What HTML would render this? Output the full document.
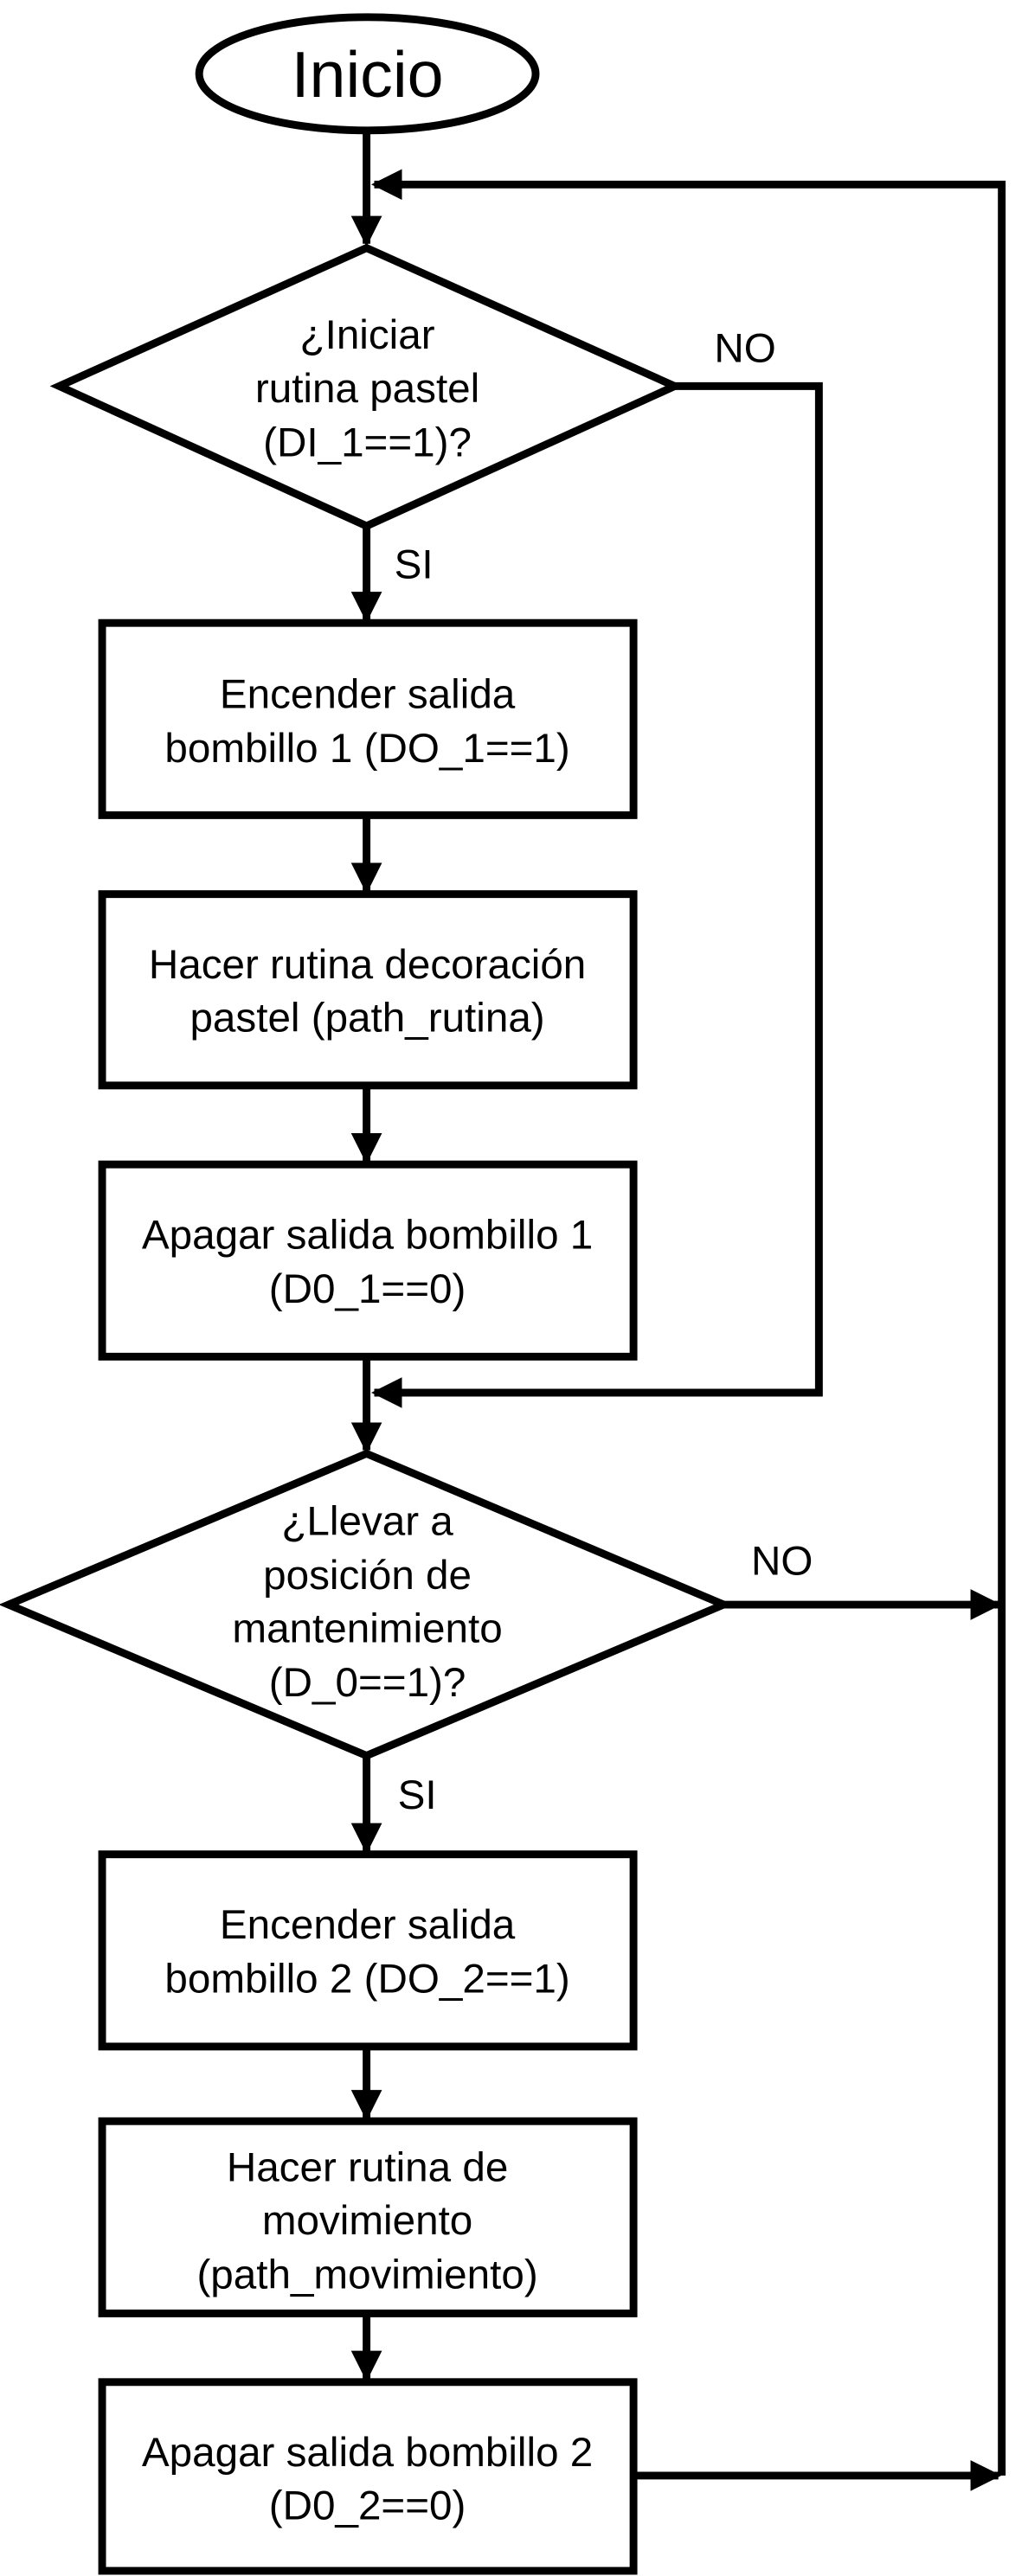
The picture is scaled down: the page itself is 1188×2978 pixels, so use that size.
<!DOCTYPE html>
<html><head><meta charset="utf-8"><style>
html,body{margin:0;padding:0;background:#fff;}
svg{display:block;}
text{font-family:"Liberation Sans",sans-serif;fill:#000;text-anchor:middle;}
</style></head><body>
<svg width="1188" height="2978" viewBox="0 0 1188 2978" xmlns="http://www.w3.org/2000/svg">
<defs>
<marker id="a" markerWidth="4" markerHeight="4" refX="3.6" refY="2" orient="auto" markerUnits="strokeWidth">
<path d="M0,0 L4,2 L0,4 z" fill="#000"/>
</marker>
</defs>
<g transform="scale(0.992)">
<g fill="none" stroke="#000" stroke-width="9">
<ellipse cx="428" cy="86" rx="196" ry="66" fill="#fff"/>
<line x1="427" y1="153" x2="427" y2="284" marker-end="url(#a)"/>
<polyline points="1167,2885 1167,215 436,215" marker-end="url(#a)"/>
<polygon points="427,289 786,450 427,613 69,450" fill="#fff"/>
<line x1="427" y1="613" x2="427" y2="722" marker-end="url(#a)"/>
<polyline points="786,450 954,450 954,1623 436,1623" marker-end="url(#a)"/>
<rect x="119" y="726" width="619" height="224" fill="#fff"/>
<line x1="427" y1="950" x2="427" y2="1038" marker-end="url(#a)"/>
<rect x="119" y="1042" width="619" height="223" fill="#fff"/>
<line x1="427" y1="1265" x2="427" y2="1353" marker-end="url(#a)"/>
<rect x="119" y="1357" width="619" height="224" fill="#fff"/>
<line x1="427" y1="1581" x2="427" y2="1690" marker-end="url(#a)"/>
<polygon points="427,1694 843,1870 427,2046 10,1870" fill="#fff"/>
<line x1="843" y1="1870" x2="1163" y2="1870" marker-end="url(#a)"/>
<line x1="427" y1="2046" x2="427" y2="2157" marker-end="url(#a)"/>
<rect x="119" y="2161" width="619" height="224" fill="#fff"/>
<line x1="427" y1="2385" x2="427" y2="2468" marker-end="url(#a)"/>
<rect x="119" y="2472" width="619" height="224" fill="#fff"/>
<line x1="427" y1="2696" x2="427" y2="2772" marker-end="url(#a)"/>
<rect x="119" y="2776" width="619" height="220" fill="#fff"/>
<line x1="738" y1="2885" x2="1163" y2="2885" marker-end="url(#a)"/>
</g>
<text x="428" y="113" font-size="76">Inicio</text>
<g font-size="48">
<text x="428" y="406">¿Iniciar</text>
<text x="428" y="469">rutina pastel</text>
<text x="428" y="532">(DI_1==1)?</text>
<text x="868" y="422">NO</text>
<text x="482" y="674">SI</text>
<text x="428" y="825">Encender salida</text>
<text x="428" y="888">bombillo 1 (DO_1==1)</text>
<text x="428" y="1140">Hacer rutina decoración</text>
<text x="428" y="1202">pastel (path_rutina)</text>
<text x="428" y="1455">Apagar salida bombillo 1</text>
<text x="428" y="1518">(D0_1==0)</text>
<text x="428" y="1789">¿Llevar a</text>
<text x="428" y="1852">posición de</text>
<text x="428" y="1914">mantenimiento</text>
<text x="428" y="1977">(D_0==1)?</text>
<text x="911" y="1835">NO</text>
<text x="486" y="2108">SI</text>
<text x="428" y="2259">Encender salida</text>
<text x="428" y="2322">bombillo 2 (DO_2==1)</text>
<text x="428" y="2542">Hacer rutina de</text>
<text x="428" y="2604">movimiento</text>
<text x="428" y="2667">(path_movimiento)</text>
<text x="428" y="2874">Apagar salida bombillo 2</text>
<text x="428" y="2936">(D0_2==0)</text>
</g>
</g>
</svg>
</body></html>
